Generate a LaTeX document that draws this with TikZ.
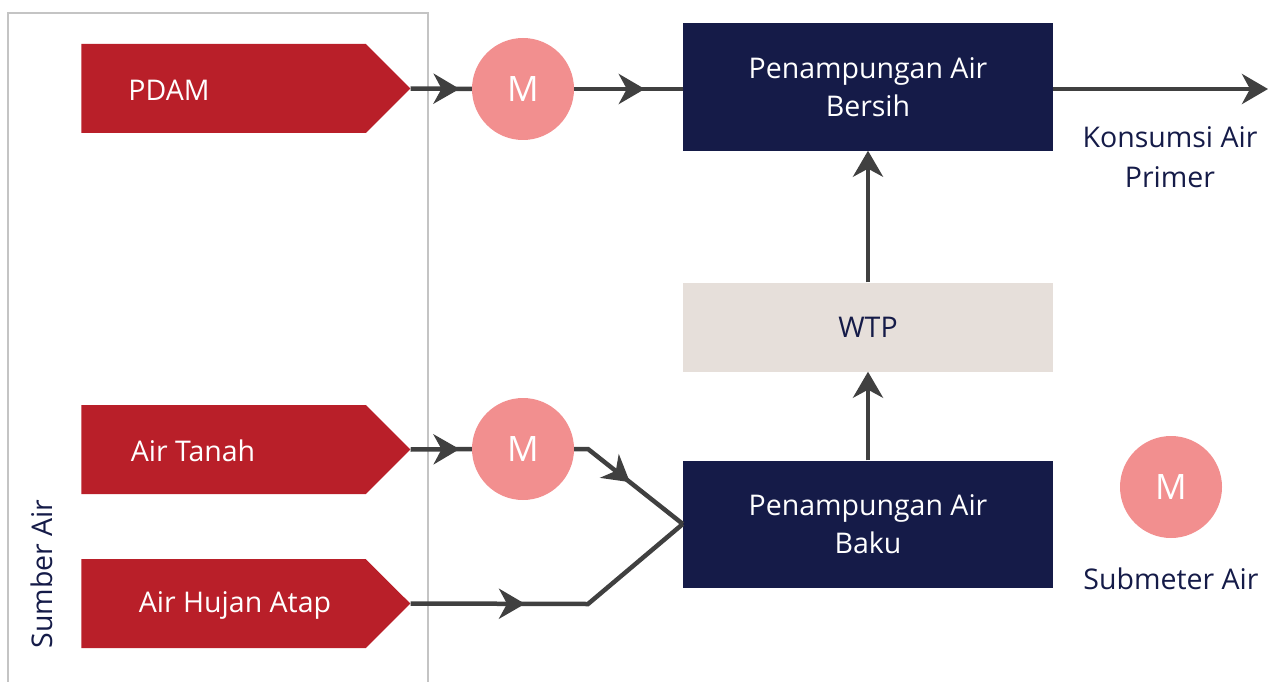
\documentclass[tikz,border=0pt]{standalone}
\usepackage{fontspec}
\setmainfont{Open Sans}
\usetikzlibrary{shapes.symbols,arrows.meta,decorations.markings}
\definecolor{srcred}{HTML}{B91F29}
\definecolor{navy}{HTML}{151B48}
\definecolor{meterpink}{HTML}{F28F8F}
\definecolor{flowgray}{HTML}{404040}
\definecolor{framegray}{HTML}{C4C4C4}
\definecolor{wtpbeige}{HTML}{E6DFDA}
\tikzset{
  source/.style={shape=signal, signal to=east, signal pointer angle=90, fill=srcred,
    minimum width=329, minimum height=89, inner sep=0, draw=none},
  srclabel/.style={text=white, font=\fontsize{28.5}{32}\selectfont, anchor=center},
  meter/.style={circle, fill=meterpink, minimum size=102, inner sep=0, text=white,
    font=\fontsize{35}{38}\selectfont},
  tank/.style={rectangle, fill=navy, minimum width=370, minimum height=127, inner sep=0,
    text=white, align=center, font=\fontsize{28.5}{38}\selectfont},
  wtpbox/.style={rectangle, fill=wtpbeige, minimum width=370, minimum height=89, inner sep=0,
    text=navy, font=\fontsize{28.5}{32}\selectfont},
  plain/.style={text=navy, align=center, font=\fontsize{28.5}{40}\selectfont},
  flow/.style={draw=flowgray, line width=4.5},
  tip/.style={-{Stealth[length=26,width=30,inset=8]}},
  midtip/.style={postaction={decorate}, decoration={markings,
    mark=at position #1 with {\arrow{Stealth[length=26,width=30,inset=8]}}}},
}
\begin{document}
\begin{tikzpicture}[x=1pt,y=-1pt]
\useasboundingbox (0,0) rectangle (1271,682);
% enclosure of the water sources
\draw[framegray, line width=2.2] (8,700) -- (8,13) -- (428,13) -- (428,700);
\node[plain, rotate=90, anchor=center] (sumber) at (42,574) {Sumber Air};

% water sources
\node[source] (pdam) at (223.5,88.5) {};
\node[srclabel] (pdamtxt) at (169,90) {PDAM};
\node[source] (tanah) at (223.5,449.5) {};
\node[srclabel] (tanahtxt) at (193,451) {Air Tanah};
\node[source] (hujan) at (223.5,603.5) {};
\node[srclabel] (hujantxt) at (235,605) {Air Hujan Atap};

% meters
\node[meter] (m1) at (523,89) {M};
\node[meter] (m2) at (523,449) {M};
\node[meter] (m3) at (1171,487) {M};
\node[plain] (sub) at (1171,579) {Submeter Air};

% tanks and treatment
\node[tank] (bersih) at (868,87) {Penampungan Air\\Bersih};
\node[wtpbox] (wtp) at (868,327) {WTP};
\node[tank] (baku) at (868,524) {Penampungan Air\\Baku};
\coordinate (out) at (1268,89);
\node[plain] (kons) at (1170,157) {Konsumsi Air\\Primer};

% junction points
\coordinate (j1) at (588,449);
\coordinate (j2) at (588,604);

% flows
\path[flow, midtip=0.8] (pdam.east) -- (m1.west);
\path[flow, midtip=0.65] (m1.east) -- (bersih.west |- m1.east);
\path[flow, tip] (bersih.east |- out) -- (out);
\path[flow, midtip=0.8] (tanah.east) -- (m2.west);
\path[flow, midtip=0.5] (m2.east) -- (j1) -- (baku.west);
\path[flow, midtip=0.38] (hujan.east) -- (j2) -- (baku.west);
\path[flow, tip] (baku.north) -- (wtp.south);
\path[flow, tip] (wtp.north) -- (bersih.south);
\end{tikzpicture}
\end{document}
